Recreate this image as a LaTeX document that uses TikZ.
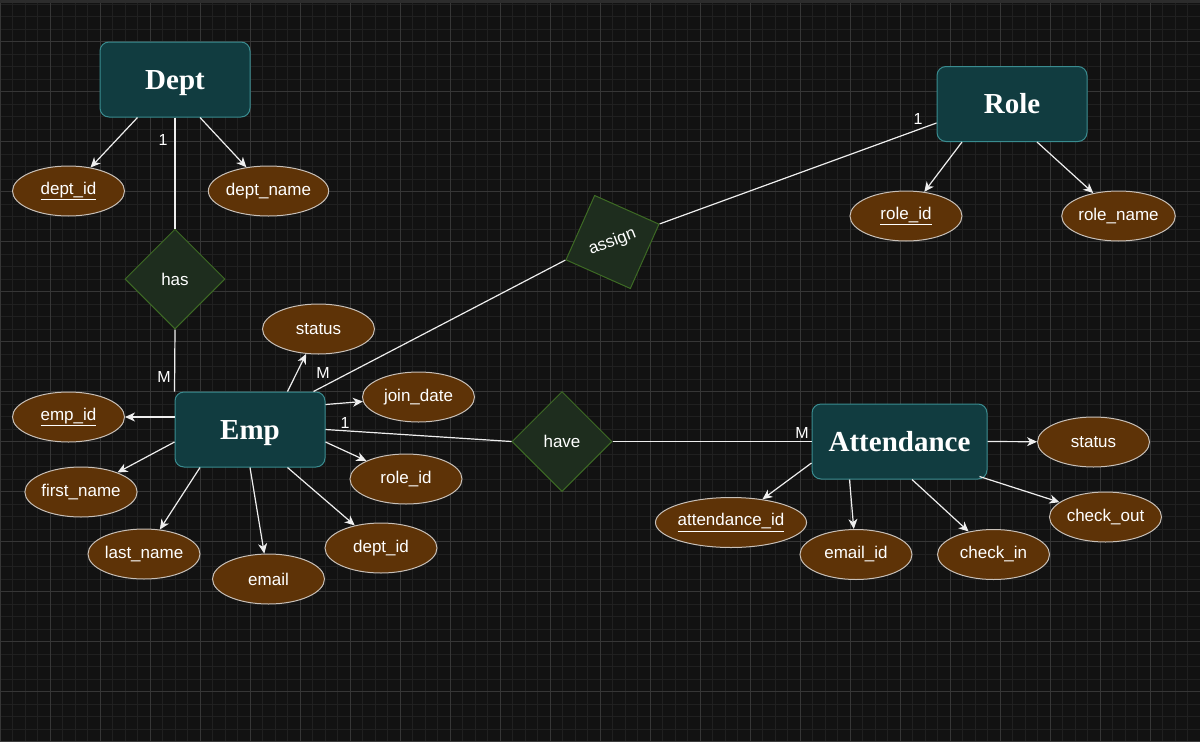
\documentclass[tikz,border=0pt]{standalone}
\usepackage{fontspec}
\setmainfont{Liberation Sans}
\newfontfamily\entfont{Liberation Serif}
\usetikzlibrary{shapes.geometric,arrows.meta}
\definecolor{bgc}{HTML}{121212}
\definecolor{minorc}{HTML}{202020}
\definecolor{majorc}{HTML}{363636}
\definecolor{topc}{HTML}{2C2C2C}
\definecolor{botc}{HTML}{3C3C3C}
\definecolor{entf}{HTML}{113C40}
\definecolor{entb}{HTML}{3A8C90}
\definecolor{relf}{HTML}{1E2D1E}
\definecolor{relb}{HTML}{3D6A24}
\definecolor{attf}{HTML}{5E3307}
\definecolor{attb}{HTML}{C8C0B8}
\definecolor{linec}{HTML}{EEEEEE}
\tikzset{
  entity/.style={draw=entb, fill=entf, rounded corners=9, minimum width=150, minimum height=75, line width=1, text=white, font=\entfont\bfseries\fontsize{29}{32}\selectfont, inner sep=0, text height=19.5pt, text depth=0pt},
  attr/.style={ellipse, draw=attb, fill=attf, minimum width=112, minimum height=50, inner sep=0, text=white, font=\fontsize{17}{20}\selectfont, line width=1},
  rel/.style={diamond, draw=relb, fill=relf, minimum width=100, minimum height=100, inner sep=0, text=white, font=\fontsize{17}{20}\selectfont, line width=1},
  conn/.style={draw=linec, line width=1.2},
  arr/.style={conn, -{Stealth[length=10pt,width=9pt,inset=3pt]}},
  card/.style={text=white, font=\fontsize{16}{19}\selectfont, inner sep=0}
}
\begin{document}
\begin{tikzpicture}[x=1pt,y=-1pt]
\useasboundingbox (0,0) rectangle (1200,742);
\fill[bgc] (0,0) rectangle (1200,742);
\foreach \x in {0,12.5,...,1200} \draw[minorc, line width=1] (\x,0) -- (\x,742);
\foreach \y in {4,16.5,...,742} \draw[minorc, line width=1] (0,\y) -- (1200,\y);
\foreach \x in {0,50,...,1200} \draw[majorc, line width=1] (\x,0) -- (\x,742);
\foreach \y in {41.5,91.5,...,742} \draw[majorc, line width=1] (0,\y) -- (1200,\y);
\fill[topc] (0,0) rectangle (1200,3);
\draw[botc, line width=1] (0,741.5) -- (1200,741.5);

% entities
\node[entity] (Dept) at (175,79.5) {Dept};
\node[entity] (Role) at (1012,104) {Role};
\node[entity] (Emp) at (250,429.5) {Emp};
\node[entity, minimum width=175] (Att) at (899.5,441.5) {Attendance};

% relationships
\node[rel] (has) at (175,279) {has};
\node[rel, rotate=21] (assign) at (612.5,242) {assign};
\node[rel] (have) at (562,441.5) {have};

% attributes
\node[attr] (deptid) at (68.5,191) {\underline{dept\_id}};
\node[attr] (deptname) at (268.5,191) {dept\_name};
\node[attr] (roleid) at (906,216) {\underline{role\_id}};
\node[attr] (rolename) at (1118.5,216) {role\_name};
\node[attr] (estatus) at (318.5,329) {status};
\node[attr] (joindate) at (418.5,397) {join\_date};
\node[attr] (empid) at (68.5,417) {\underline{emp\_id}};
\node[attr] (firstname) at (81,492) {first\_name};
\node[attr] (lastname) at (144,554) {last\_name};
\node[attr] (email) at (268.5,579) {email};
\node[attr] (edeptid) at (381,548) {dept\_id};
\node[attr] (eroleid) at (406,479) {role\_id};
\node[attr] (astatus) at (1093.5,442) {status};
\node[attr] (checkout) at (1105.5,517) {check\_out};
\node[attr] (emailid) at (856,554.5) {email\_id};
\node[attr] (checkin) at (993.5,554.5) {check\_in};
\node[attr, minimum width=138] (attid) at (731,522.5) {\underline{attendance\_id}};

% relationship lines
\draw[conn] (Dept.south) -- (has.north);
\draw[conn] (has.south) -- (Emp.north west);
\draw[conn] ([yshift=-19pt]Role.west) -- (assign.east);
\draw[conn] (assign.west) -- ([xshift=-12pt]Emp.north east);
\draw[conn] (Emp.east) -- (have.west);
\draw[conn] (have.east) -- (Att.west);

% cardinalities
\node[card] (c1) at (163,140) {1};
\node[card] (c2) at (164,377) {M};
\node[card] (c3) at (918,119) {1};
\node[card] (c4) at (323,373) {M};
\node[card] (c5) at (345,423) {1};
\node[card] (c6) at (802,433) {M};

% attribute arrows
\draw[arr] ([xshift=-37.5pt]Dept.south) -- (deptid);
\draw[arr] ([xshift=25pt]Dept.south) -- (deptname);
\draw[arr] ([xshift=-50pt]Role.south) -- (roleid);
\draw[arr] ([xshift=25pt]Role.south) -- (rolename);
\draw[arr] ([yshift=12.5pt]Emp.west) -- (empid);
\draw[arr] ([yshift=-12.5pt]Emp.west) -- (firstname);
\draw[arr] ([xshift=-50pt]Emp.south) -- (lastname);
\draw[arr] (Emp.south) -- (email);
\draw[arr] ([xshift=37.5pt]Emp.south) -- (edeptid);
\draw[arr] ([yshift=-12.5pt]Emp.east) -- (eroleid);
\draw[arr] ([yshift=25pt]Emp.east) -- (joindate);
\draw[arr] ([xshift=37.5pt]Emp.north) -- (estatus);
\draw[arr] (Att.east) -- (astatus);
\draw[arr] ([xshift=-8pt,yshift=3pt]Att.south east) -- (checkout);
\draw[arr] ([xshift=12.5pt]Att.south) -- (checkin);
\draw[arr] ([xshift=-50pt]Att.south) -- (emailid);
\draw[arr] ([yshift=-21.5pt]Att.west) -- (attid);
\end{tikzpicture}
\end{document}
